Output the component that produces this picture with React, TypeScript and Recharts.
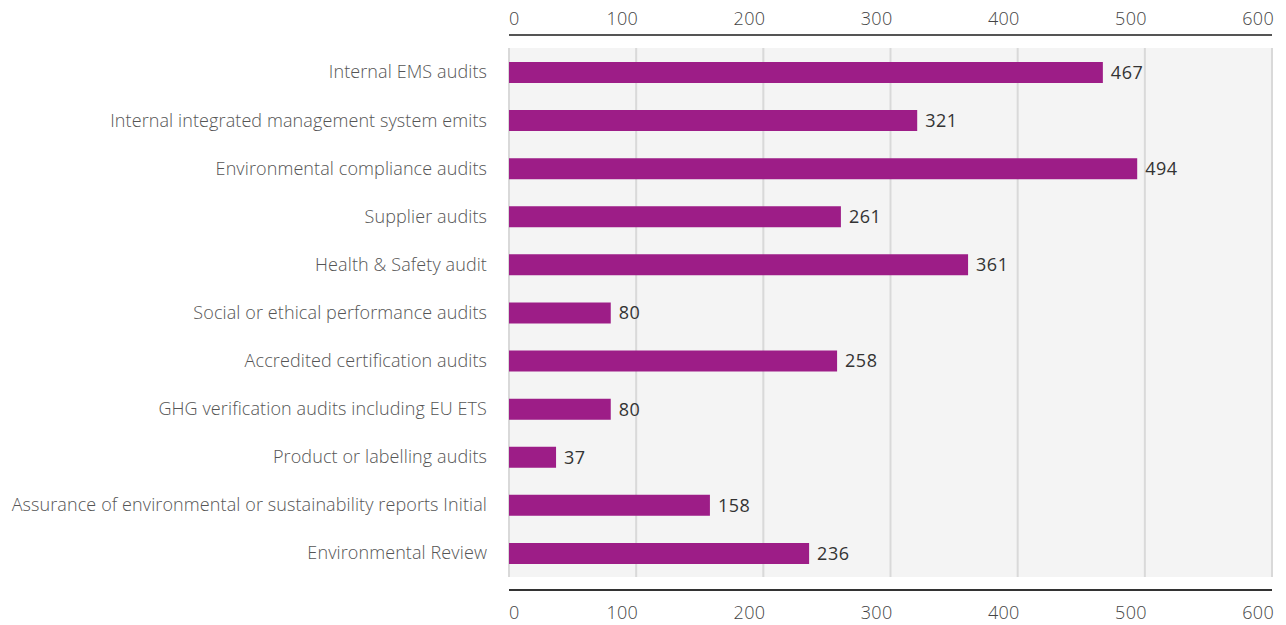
import { BarChart, Bar, XAxis, YAxis, CartesianGrid, LabelList } from "recharts";

const categories = [
  "Internal EMS audits",
  "Internal integrated management system emits",
  "Environmental compliance audits",
  "Supplier audits",
  "Health & Safety audit",
  "Social or ethical performance audits",
  "Accredited certification audits",
  "GHG verification audits including EU ETS",
  "Product or labelling audits",
  "Assurance of environmental or sustainability reports Initial",
  "Environmental Review",
];

const auditCounts = [467, 321, 494, 261, 361, 80, 258, 80, 37, 158, 236];

const xTicks = [0, 100, 200, 300, 400, 500, 600];

const data = categories.map((name, i) => ({ name, value: auditCounts[i] }));

const FONT = "'Open Sans', Lato, sans-serif";

function ValueTick(props: any) {
  const { x, y, payload } = props;
  const first = payload.value === 0;
  return (
    <text
      x={first ? x : x + 2}
      y={y}
      textAnchor={first ? "start" : "end"}
      fill="#444"
      fontSize={18}
      fontFamily={FONT}
      fontWeight={300}
      letterSpacing={0.3}
      dominantBaseline="central"
    >
      {payload.value}
    </text>
  );
}

export default function App() {
  return (
    <div style={{ position: "absolute", left: 0, top: 0, background: "#fff" }}>
      <BarChart
        width={1286}
        height={625}
        data={data}
        layout="vertical"
        margin={{ top: 0, right: 14, left: 0, bottom: 0 }}
        barSize={21}
      >
        <CartesianGrid
          xAxisId="top"
          horizontal={false}
          stroke="#d9d9d9"
          strokeWidth={2}
          fill="#f4f4f4"
          y={48}
          height={529}
        />
        <XAxis
          xAxisId="top"
          orientation="top"
          type="number"
          domain={[0, 600]}
          ticks={xTicks}
          height={35}
          tickLine={false}
          axisLine={{ stroke: "#555", strokeWidth: 2 }}
          tick={(p: any) => <ValueTick {...p} y={18} />}
          interval={0}
        />
        <XAxis
          xAxisId="bottom"
          orientation="bottom"
          type="number"
          dataKey="value"
          domain={[0, 600]}
          ticks={xTicks}
          height={35}
          tickLine={false}
          axisLine={{ stroke: "#333", strokeWidth: 2 }}
          tick={(p: any) => <ValueTick {...p} y={612} />}
          interval={0}
        />
        <YAxis
          type="category"
          dataKey="name"
          width={509}
          padding={{ top: 13, bottom: 13 }}
          tickLine={false}
          axisLine={false}
          tickSize={0}
          tickMargin={22}
          interval={0}
          tick={{ fill: "#555", fontSize: 18, fontFamily: FONT, fontWeight: 300, letterSpacing: 0.1 }}
        />
        <Bar dataKey="value" xAxisId="top" fill="#9d1d87" isAnimationActive={false}>
          <LabelList
            dataKey="value"
            position="right"
            offset={8}
            fill="#333"
            fontSize={18}
            fontFamily={FONT}
            letterSpacing={0.5}
          />
        </Bar>
      </BarChart>
    </div>
  );
}
